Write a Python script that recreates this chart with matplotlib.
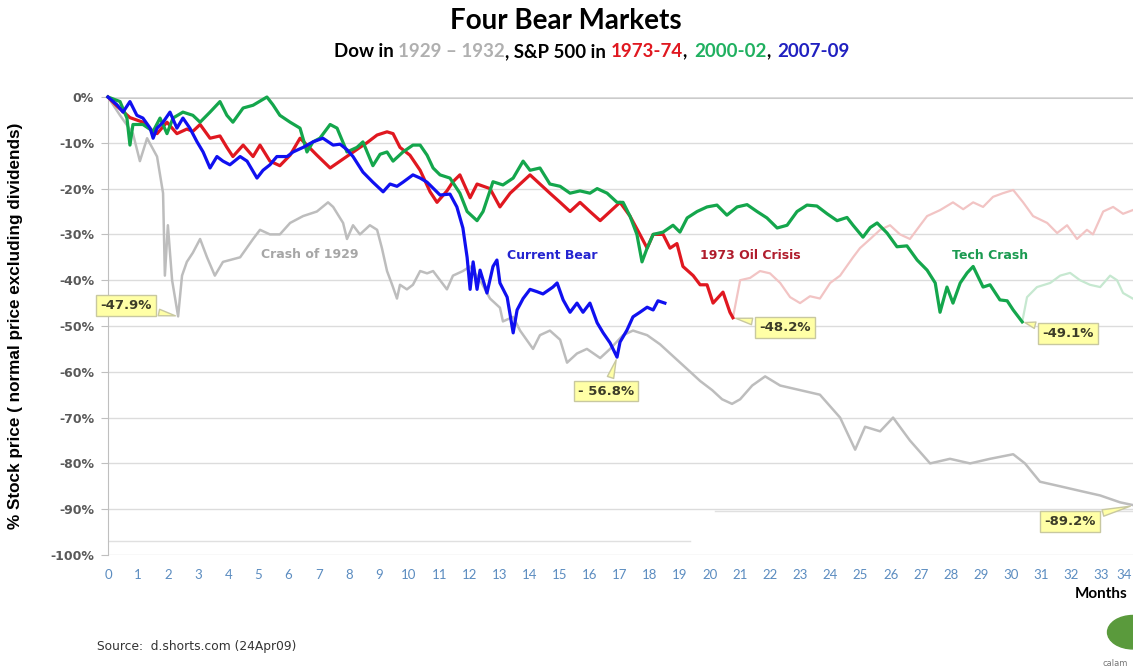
import matplotlib
matplotlib.use("Agg")
import matplotlib.pyplot as plt
from matplotlib.offsetbox import TextArea, HPacker, AnchoredOffsetbox
from matplotlib.patches import Ellipse

# --- data (months since peak, % change) ---
dow_m = [0, 0.40, 0.83, 1.06, 1.30, 1.63, 1.83, 1.89, 1.99, 2.13, 2.33, 2.46, 2.62, 2.82,
         3.06, 3.29, 3.55, 3.82, 4.39, 4.82, 5.05, 5.38, 5.71, 6.05, 6.48, 6.94, 7.31, 7.48,
         7.81, 7.94, 8.14, 8.37, 8.70, 8.94, 9.10, 9.27, 9.44, 9.60, 9.70, 9.93, 10.13, 10.37,
         10.60, 10.80, 11.03, 11.26, 11.46, 11.79, 12.03, 12.36, 12.69, 13.02, 13.12, 13.46,
         13.69, 14.12, 14.35, 14.68, 15.02, 15.25, 15.58, 15.91, 16.35, 16.68, 17.11, 17.44,
         17.91, 18.34, 18.84, 19.34, 19.67, 20.07, 20.40, 20.73, 21.00, 21.40, 21.83, 22.33,
         22.99, 23.65, 24.32, 24.82, 25.15, 25.65, 26.08, 26.64, 27.31, 27.97, 28.64, 29.30,
         30.07, 30.46, 30.96, 31.63, 32.29, 32.96, 33.62, 34.12]
dow_v = [0, -4, -8, -14, -9, -13, -21, -39, -28, -40, -47.9, -39, -36, -34,
         -31, -35, -39, -36, -35, -31, -29, -30, -30, -27.5, -26, -25, -23, -24,
         -27.5, -31, -28, -30, -28, -29, -33, -38, -41, -44, -41, -42, -41, -38,
         -38.5, -38, -40, -42, -39, -38, -37, -40, -44, -46, -49, -48,
         -51, -55, -52, -51, -53, -58, -56, -55, -57, -55, -52, -51,
         -52, -54, -57, -60, -62, -64, -66, -67, -66, -63, -61, -63,
         -64, -65, -70, -77, -72, -73, -70, -75, -80, -79, -80, -79,
         -78, -80, -84, -85, -86, -87, -88.5, -89.2]

sp73_m = [0, 0.30, 0.73, 1.16, 1.40, 1.63, 1.96, 2.29, 2.62, 2.82, 3.06, 3.39, 3.72, 3.95,
          4.15, 4.49, 4.82, 5.05, 5.38, 5.71, 6.05, 6.38, 6.61, 6.94, 7.38, 7.71, 8.04, 8.37,
          8.60, 8.94, 9.27, 9.47, 9.70, 10.03, 10.37, 10.70, 10.93, 11.26, 11.46, 11.69, 12.03,
          12.26, 12.69, 13.02, 13.36, 13.69, 14.02, 14.35, 14.68, 15.02, 15.35, 15.68, 16.01,
          16.35, 16.68, 17.01, 17.34, 17.67, 17.91, 18.11, 18.44, 18.67, 18.90, 19.10, 19.44,
          19.67, 19.90, 20.10, 20.43, 20.66, 20.76]
sp73_v = [0, -2, -4.5, -5.5, -7, -8, -5.5, -8, -7, -7.5, -6, -9, -8.5, -11,
          -13, -10.5, -13, -10.5, -14, -15, -12.7, -9, -10.5, -12.7, -15.5, -14, -12.5, -11,
          -10, -8.3, -7.6, -8, -11, -12.7, -16, -20.7, -23, -20.5, -18.5, -17, -22,
          -19, -20, -24, -21, -19, -17, -19, -21, -23, -25, -23, -25,
          -27, -25, -23, -26, -30, -33, -30, -30, -33, -32, -37, -39,
          -41, -41, -45, -42.6, -47, -48.2]
# what came after the 1973-74 bottom (faded)
sp73_after_m = [20.76, 21.00, 21.33, 21.66, 21.99, 22.33, 22.66, 22.99, 23.32, 23.65, 23.99,
                24.32, 24.75, 24.98, 25.32, 25.65, 25.98, 26.31, 26.64, 26.98, 27.21, 27.64,
                28.07, 28.41, 28.74, 29.07, 29.40, 29.73, 30.07, 30.40, 30.73, 31.20, 31.53,
                31.86, 32.19, 32.52, 32.72, 33.06, 33.39, 33.72, 34.12]
sp73_after_v = [-48.2, -40, -39.5, -38, -38.5, -40.6, -43.7, -45, -43.5, -44, -40.6,
                -39, -35, -33, -31, -29, -28, -30, -31, -28, -26, -24.7,
                -23, -24.5, -23, -24, -21.8, -21, -20.3, -23, -26, -27.5, -29.7,
                -28, -31, -29, -30, -25, -24, -25.5, -24.5]

sp00_m = [0, 0.40, 0.63, 0.73, 0.83, 1.16, 1.50, 1.73, 1.96, 2.16, 2.49, 2.82, 3.06, 3.39,
          3.72, 3.95, 4.15, 4.49, 4.82, 5.28, 5.48, 5.71, 6.05, 6.38, 6.61, 6.81, 7.04, 7.38,
          7.61, 7.94, 8.27, 8.47, 8.80, 9.04, 9.27, 9.47, 9.80, 10.13, 10.37, 10.60, 10.80,
          11.03, 11.36, 11.69, 11.93, 12.26, 12.46, 12.79, 13.12, 13.46, 13.79, 14.02, 14.35,
          14.68, 15.02, 15.35, 15.68, 16.01, 16.25, 16.58, 16.91, 17.11, 17.34, 17.57, 17.74,
          17.91, 18.11, 18.44, 18.77, 19.00, 19.24, 19.57, 19.90, 20.23, 20.56, 20.90, 21.23,
          21.56, 21.89, 22.23, 22.56, 22.89, 23.22, 23.55, 23.89, 24.22, 24.55, 24.75, 25.08,
          25.32, 25.55, 25.88, 26.21, 26.54, 26.88, 27.21, 27.48, 27.64, 27.87, 28.07, 28.31,
          28.54, 28.74, 29.07, 29.30, 29.63, 29.87, 30.07, 30.37]
sp00_v = [0, -1, -4.6, -10.5, -6, -6, -7.5, -4.6, -8, -4.6, -3.3, -4, -5.5, -3.3,
          -1, -4, -5.5, -2.4, -1.8, 0, -1.7, -4, -5.5, -6.8, -12, -9.8, -9, -6,
          -6.8, -12, -11, -9.8, -15, -12.5, -12, -14, -12, -10.5, -10.5, -12.7, -15.5,
          -17, -17.7, -21, -25, -27, -25, -18.5, -19.2, -17.7, -14, -16, -15.5,
          -19, -19.5, -21, -20.5, -21, -20, -21, -23, -23, -26, -30, -36,
          -33, -30, -29.5, -28, -29.5, -26.4, -25, -24, -23.6, -25.8, -24, -23.5,
          -25, -26.4, -28.6, -28, -25, -23.6, -23.8, -25.5, -27, -26.3, -28, -30.6,
          -28.5, -27.5, -29.7, -32.7, -32.5, -35.6, -37.8, -40.6, -47, -41.5, -45, -40.6,
          -38.4, -37, -41.5, -41, -44.3, -44.5, -46.5, -49.1]
sp00_after_m = [30.37, 30.53, 30.86, 31.30, 31.63, 31.96, 32.29, 32.62, 32.96, 33.29, 33.52,
                33.72, 34.12]
sp00_after_v = [-49.1, -43.7, -41.5, -40.6, -39, -38.4, -40, -41, -41.5, -39, -40,
                -42.8, -44.3]

sp07_m = [0, 0.30, 0.50, 0.73, 0.96, 1.16, 1.40, 1.50, 1.63, 1.83, 2.06, 2.29, 2.49, 2.72,
          2.96, 3.16, 3.39, 3.62, 3.82, 4.05, 4.39, 4.62, 4.95, 5.15, 5.38, 5.61, 5.95, 6.15,
          6.48, 6.81, 7.14, 7.48, 7.71, 7.94, 8.14, 8.47, 8.80, 9.14, 9.37, 9.60, 9.80, 10.13,
          10.37, 10.60, 10.80, 11.03, 11.36, 11.59, 11.79, 11.93, 12.03, 12.13, 12.26, 12.36,
          12.59, 12.79, 12.92, 13.02, 13.26, 13.46, 13.59, 13.79, 14.02, 14.25, 14.45, 14.78,
          14.92, 15.12, 15.35, 15.58, 15.78, 16.01, 16.25, 16.45, 16.68, 16.91, 17.01, 17.24,
          17.44, 17.67, 17.91, 18.11, 18.27, 18.50]
sp07_v = [0, -1.7, -3.3, -1, -4, -4.6, -6.8, -9, -6.8, -5.5, -3.3, -6.8, -4.6, -6.8,
          -9.8, -12, -15.5, -13, -14, -14.8, -13, -14, -17.7, -16, -14.8, -13, -13, -12,
          -11, -9.8, -9, -10.5, -10.3, -11.5, -13, -16.4, -18.6, -20.7, -19, -19.5, -18.6, -17,
          -17.7, -18.6, -19.9, -21.4, -21.2, -24, -28.6, -35, -42, -36, -42, -37.8,
          -42.8, -37, -35.6, -40.6, -43.7, -51.5, -46.5, -44, -42, -42.5, -43, -41.5,
          -40.6, -44.3, -47, -45, -47, -45, -49.3, -51.5, -53.7, -56.8, -53.5, -50.9,
          -48, -47, -45.9, -46.5, -44.5, -45]

yticks = list(range(0, -101, -10))
xticks = list(range(0, 35))

# --- figure ---
fig = plt.figure(figsize=(11.33, 6.69), dpi=100)
ax = fig.add_axes([0.0953, 0.1704, 0.9047, 0.6846])

ax.plot(dow_m, dow_v, color='#bdbdbd', lw=1.8, zorder=2, clip_on=False)
ax.plot(sp73_after_m, sp73_after_v, color='#f2c4c4', lw=1.6, zorder=2)
ax.plot(sp00_after_m, sp00_after_v, color='#c6e8d0', lw=1.6, zorder=2)
ax.plot(sp73_m, sp73_v, color='#e01820', lw=2.3, zorder=3, clip_on=False)
ax.plot(sp00_m, sp00_v, color='#14a64c', lw=2.3, zorder=4, clip_on=False)
ax.plot(sp07_m, sp07_v, color='#1010f0', lw=2.3, zorder=5, clip_on=False)

ax.set_xlim(0, 34.05)
ax.set_ylim(-100, 0)
ax.set_yticks(yticks)
ax.set_yticklabels([f'{v}%' for v in yticks], fontsize=9, fontweight='bold',
                   color='#595959', family='DejaVu Sans')
ax.set_xticks(xticks)
ax.set_xticklabels([str(v) for v in xticks], fontsize=9.5, color='#5b8cc0', family='Lato')
ax.get_xticklabels()[-1].set_ha('right')  # last one sits on the right edge
ax.tick_params(axis='x', length=0, pad=10)
ax.tick_params(axis='y', length=5, color='#bfbfbf', pad=5)

ax.grid(axis='y', color='#dcdcdc', lw=1)
ax.axhline(0, color='#c8c8c8', lw=2.2, zorder=1)
ax.axhline(-97, xmin=0, xmax=0.568, color='#e0e0e0', lw=1, zorder=1)
ax.axhline(-90.4, xmin=0.592, xmax=1, color='#e0e0e0', lw=1, zorder=1)
for s in ['top', 'right', 'bottom']:
    ax.spines[s].set_visible(False)
ax.spines['left'].set_color('#bfbfbf')

ax.set_ylabel('% Stock price ( normal price excluding dividends)', fontsize=12.3,
              fontweight='bold', family='Liberation Sans')
ax.yaxis.set_label_coords(-0.083, 0.5)

# series labels
lab = dict(fontsize=9, fontweight='bold', ha='center', va='center', family='DejaVu Sans')
ax.text(6.71, -34.3, 'Crash of 1929', color='#a6a6a6', **lab)
ax.text(14.75, -34.5, 'Current Bear', color='#2424d0', **lab)
ax.text(21.33, -34.5, '1973 Oil Crisis', color='#b01c2c', **lab)
ax.text(29.3, -34.5, 'Tech Crash', color='#1a9a50', **lab)

# callouts
box = dict(boxstyle='square,pad=0.3', fc='#ffffa6', ec='#c8c8a0', lw=1)
arr = dict(arrowstyle='wedge,tail_width=0.5,shrink_factor=0.5', fc='#ffffa6', ec='#c8c8a0', lw=1)
calls = [('-47.9%', (2.33, -47.9), (0.60, -45.6)),
         ('-48.2%', (20.76, -48.2), (22.49, -50.4)),
         ('- 56.8%', (16.91, -56.8), (16.55, -64.2)),
         ('-49.1%', (30.37, -49.1), (31.89, -51.7)),
         ('-89.2%', (34.05, -89.2), (31.96, -92.6))]
for txt, tip, pos in calls:
    ax.annotate(txt, xy=tip, xytext=pos, ha='center', va='center', fontsize=9.5,
                fontweight='bold', color='#3c3c28', family='DejaVu Sans',
                bbox=box, arrowprops=arr, zorder=10, annotation_clip=False)

# titles
fig.text(0.4995, 0.968, 'Four Bear Markets', ha='center', va='center', fontsize=20,
         fontweight='bold', family='Lato')
parts = [('Dow in ', 'black'), ('1929 \u2013 1932', '#b0b0b0'), (', S&P 500 in ', 'black'),
         ('1973-74', '#e01820'), (',', 'black'), ('2000-02', '#20b060'), (',', 'black'),
         ('2007-09', '#2020c0')]
areas = [TextArea(t, textprops=dict(color=c, fontsize=13.5, fontweight='bold', family='Lato'))
         for t, c in parts]
areas[5] = HPacker(children=[areas[5]], pad=0, sep=0)
pack = HPacker(children=areas[:5], align='baseline', pad=0, sep=0)
pack2 = HPacker(children=[areas[5], areas[6]], align='baseline', pad=0, sep=0)
line = HPacker(children=[pack, pack2, areas[7]], align='baseline', pad=0, sep=5)
anc = AnchoredOffsetbox(loc='center', child=line, frameon=False,
                        bbox_to_anchor=(0.5225, 0.923), bbox_transform=fig.transFigure,
                        borderpad=0, pad=0)
fig.add_artist(anc)

fig.text(0.949, 0.112, 'Months', fontsize=11, fontweight='bold', family='Lato', va='center')
fig.text(0.086, 0.033, 'Source:  d.shorts.com (24Apr09)', fontsize=8.8, color='#333333',
         family='DejaVu Sans', va='center')

# logo stub at the lower right
fig.patches.append(Ellipse((1.0, 0.055), 0.045, 0.05, transform=fig.transFigure,
                           color='#5a9a3c'))
fig.text(0.973, 0.008, 'calam', fontsize=6, color='#777777', va='center')

fig.savefig('out.png', dpi=100)
